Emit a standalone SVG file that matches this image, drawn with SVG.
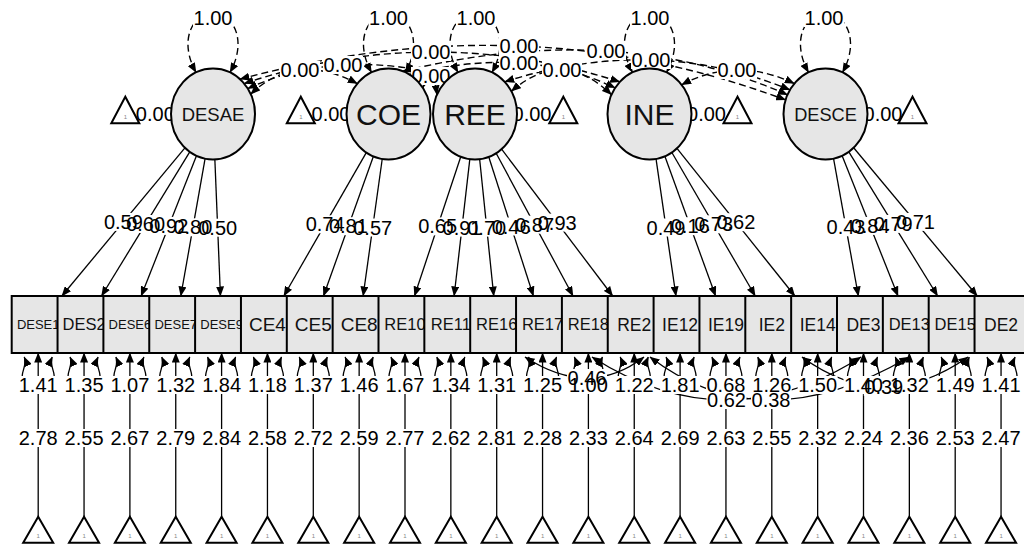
<svg xmlns="http://www.w3.org/2000/svg" xmlns:xlink="http://www.w3.org/1999/xlink" width="1024" height="544" viewBox="0 0 1024 544">
<style>
.e{fill:none;stroke:#000;stroke-width:1.3}
.d{stroke-dasharray:7 4;stroke-width:1.4}
.bg{fill:#fff}
.t{font-family:"Liberation Sans",Arial,Helvetica,sans-serif;font-size:20px;text-anchor:middle;fill:#000}
.n{fill:#e6e6e6;stroke:#000;stroke-width:2}
.tri{fill:#fff;stroke:#000;stroke-width:2}
.one{font-family:"Liberation Sans",Arial,sans-serif;font-size:6px;text-anchor:middle;fill:#888}
.nl{font-family:"Liberation Sans",Arial,Helvetica,sans-serif;text-anchor:middle;fill:#111}
</style>
<defs>
<marker id="ah" viewBox="0 0 10 8" refX="9.5" refY="4" markerWidth="10" markerHeight="8" markerUnits="userSpaceOnUse" orient="auto-start-reverse"><path d="M0,0 L10,4 L0,8 z" fill="#000"/></marker>
<path id="rl" d="M-14,357 C-10,366 -20,374 -14,382 Q0,392 14,382 C20,374 10,366 14,357" fill="none" stroke="#000" stroke-width="1.3" marker-start="url(#ah)" marker-end="url(#ah)"/>
</defs>
<rect width="1024" height="544" fill="#fff"/>
<g id="connectors">
<!-- latent variance loops -->
<g class="e d">
<path d="M196,72.4 C179,42 191,14 213,14 C235,14 247,42 230,72.4" marker-start="url(#ah)" marker-end="url(#ah)"/>
<path d="M371.5,72.4 C354.5,42 366.5,14 388.5,14 C410.5,14 422.5,42 405.5,72.4" marker-start="url(#ah)" marker-end="url(#ah)"/>
<path d="M458,72.4 C441,42 453,14 475,14 C497,14 509,42 492,72.4" marker-start="url(#ah)" marker-end="url(#ah)"/>
<path d="M632.5,72.4 C615.5,42 627.5,14 649.5,14 C671.5,14 683.5,42 666.5,72.4" marker-start="url(#ah)" marker-end="url(#ah)"/>
<path d="M808.5,72.4 C791.5,42 803.5,14 825.5,14 C847.5,14 859.5,42 842.5,72.4" marker-start="url(#ah)" marker-end="url(#ah)"/>
<!-- latent covariances -->
<path d="M250.75,94.05 Q295.98,51.2 357.29,83.55" marker-start="url(#ah)" marker-end="url(#ah)"/>
<path d="M247.82,88.56 Q336.63,47.35 450.91,76.73" marker-start="url(#ah)" marker-end="url(#ah)"/>
<path d="M244.21,83.55 Q430,21.31 619.8,81.83" marker-start="url(#ah)" marker-end="url(#ah)"/>
<path d="M240,79.15 Q525.22,2.45 785.56,99.94" marker-start="url(#ah)" marker-end="url(#ah)"/>
<path d="M422.9,87.9 Q432.08,60.66 436.93,94.77" marker-start="url(#ah)" marker-end="url(#ah)"/>
<path d="M409.5,74.6 Q525.7,44.75 615.1,87.9" marker-start="url(#ah)" marker-end="url(#ah)"/>
<path d="M402.86,71.24 Q616.85,19 787.43,94.77" marker-start="url(#ah)" marker-end="url(#ah)"/>
<path d="M511.4,91.25 Q562.6,47 611.43,94.77" marker-start="url(#ah)" marker-end="url(#ah)"/>
<path d="M504.7,81.8 Q654.71,34.15 789.88,89.89" marker-start="url(#ah)" marker-end="url(#ah)"/>
<path d="M681.67,84.75 Q736.02,55.85 794.29,83.55" marker-start="url(#ah)" marker-end="url(#ah)"/>
</g>
<!-- latent intercepts -->
<g class="e">
<line x1="139" y1="114" x2="171" y2="114" marker-end="url(#ah)"/>
<line x1="314.8" y1="114" x2="346.5" y2="114" marker-end="url(#ah)"/>
<line x1="549.3" y1="114" x2="517" y2="114" marker-end="url(#ah)"/>
<line x1="723.5" y1="114" x2="691.5" y2="114" marker-end="url(#ah)"/>
<line x1="898.5" y1="114" x2="867.5" y2="114" marker-end="url(#ah)"/>
</g>
<!-- loadings -->
<g class="e" marker-end="url(#ah)">
<line x1="184.91" y1="147.83" x2="61.86" y2="296"/>
<line x1="189.78" y1="151.91" x2="101.51" y2="296"/>
<line x1="196.48" y1="155.83" x2="141.15" y2="296"/>
<line x1="205.09" y1="158.69" x2="180.79" y2="296"/>
<line x1="214.86" y1="159.46" x2="220.44" y2="296"/>
<line x1="366.29" y1="152.62" x2="283.84" y2="296"/>
<line x1="373.34" y1="156.43" x2="323.48" y2="296"/>
<line x1="382.23" y1="158.99" x2="363.12" y2="296"/>
<line x1="460.76" y1="156.81" x2="414.48" y2="296"/>
<line x1="469.82" y1="159.15" x2="454.12" y2="296"/>
<line x1="479.66" y1="159.22" x2="493.76" y2="296"/>
<line x1="488.79" y1="156.98" x2="533.4" y2="296"/>
<line x1="496.17" y1="153.3" x2="573.05" y2="296"/>
<line x1="501.62" y1="149.19" x2="612.69" y2="296"/>
<line x1="656.03" y1="158.95" x2="675.96" y2="296"/>
<line x1="664.88" y1="156.34" x2="715.6" y2="296"/>
<line x1="671.87" y1="152.51" x2="755.24" y2="296"/>
<line x1="676.98" y1="148.41" x2="794.88" y2="296"/>
<line x1="833.56" y1="158.65" x2="858.36" y2="296"/>
<line x1="842.14" y1="155.78" x2="898" y2="296"/>
<line x1="848.82" y1="151.84" x2="937.64" y2="296"/>
<line x1="853.66" y1="147.76" x2="977.28" y2="296"/>
</g>
<!-- manifest intercepts -->
<g class="e" marker-end="url(#ah)">
<line x1="38.2" y1="516.7" x2="38.2" y2="353"/>
<line x1="84.05" y1="516.7" x2="84.05" y2="353"/>
<line x1="129.9" y1="516.7" x2="129.9" y2="353"/>
<line x1="175.75" y1="516.7" x2="175.75" y2="353"/>
<line x1="221.6" y1="516.7" x2="221.6" y2="353"/>
<line x1="267.45" y1="516.7" x2="267.45" y2="353"/>
<line x1="313.3" y1="516.7" x2="313.3" y2="353"/>
<line x1="359.15" y1="516.7" x2="359.15" y2="353"/>
<line x1="405" y1="516.7" x2="405" y2="353"/>
<line x1="450.85" y1="516.7" x2="450.85" y2="353"/>
<line x1="496.7" y1="516.7" x2="496.7" y2="353"/>
<line x1="542.55" y1="516.7" x2="542.55" y2="353"/>
<line x1="588.4" y1="516.7" x2="588.4" y2="353"/>
<line x1="634.25" y1="516.7" x2="634.25" y2="353"/>
<line x1="680.1" y1="516.7" x2="680.1" y2="353"/>
<line x1="725.95" y1="516.7" x2="725.95" y2="353"/>
<line x1="771.8" y1="516.7" x2="771.8" y2="353"/>
<line x1="817.65" y1="516.7" x2="817.65" y2="353"/>
<line x1="863.5" y1="516.7" x2="863.5" y2="353"/>
<line x1="909.35" y1="516.7" x2="909.35" y2="353"/>
<line x1="955.2" y1="516.7" x2="955.2" y2="353"/>
<line x1="1001.05" y1="516.7" x2="1001.05" y2="353"/>
</g>
<!-- residual variances -->
<use xlink:href="#rl" x="38.2"/><use xlink:href="#rl" x="84.05"/><use xlink:href="#rl" x="129.9"/><use xlink:href="#rl" x="175.75"/><use xlink:href="#rl" x="221.6"/><use xlink:href="#rl" x="267.45"/><use xlink:href="#rl" x="313.3"/><use xlink:href="#rl" x="359.15"/><use xlink:href="#rl" x="405"/><use xlink:href="#rl" x="450.85"/><use xlink:href="#rl" x="496.7"/><use xlink:href="#rl" x="542.55"/><use xlink:href="#rl" x="588.4"/><use xlink:href="#rl" x="634.25"/><use xlink:href="#rl" x="680.1"/><use xlink:href="#rl" x="725.95"/><use xlink:href="#rl" x="771.8"/><use xlink:href="#rl" x="817.65"/><use xlink:href="#rl" x="863.5"/><use xlink:href="#rl" x="909.35"/><use xlink:href="#rl" x="955.2"/><use xlink:href="#rl" x="1001.05"/>
<!-- residual covariances -->
<g class="e">
<path d="M525,357 Q589.5,399 644,357" marker-start="url(#ah)" marker-end="url(#ah)"/>
<path d="M592,357 Q726.5,443 861,357" marker-start="url(#ah)" marker-end="url(#ah)"/>
<path d="M650,357 Q762.5,443 909,357" marker-start="url(#ah)" marker-end="url(#ah)"/>
<path d="M802,357 Q883,416.5 968,357" marker-start="url(#ah)" marker-end="url(#ah)"/>
</g>
<!-- label backgrounds -->
<g class="bg">
<rect x="193" y="9" width="40" height="18"/><rect x="368.5" y="9" width="40" height="18"/><rect x="456" y="9" width="40" height="18"/><rect x="630" y="9" width="40" height="18"/><rect x="804" y="9" width="40" height="18"/>
<rect x="280" y="61" width="40" height="18"/><rect x="323" y="56" width="40" height="18"/><rect x="411" y="43" width="40" height="18"/><rect x="499" y="37" width="40" height="18"/><rect x="411" y="67" width="40" height="18"/><rect x="499" y="54" width="40" height="18"/><rect x="586" y="42" width="40" height="18"/><rect x="542" y="61" width="40" height="18"/><rect x="631" y="51" width="40" height="18"/><rect x="717" y="61" width="40" height="18"/>
<rect x="135.3" y="105" width="40" height="18"/><rect x="311" y="105" width="40" height="18"/><rect x="512" y="105" width="40" height="18"/><rect x="686.5" y="105" width="40" height="18"/><rect x="863" y="105" width="40" height="18"/>
<rect x="103.4" y="212.9" width="40" height="18"/><rect x="125.6" y="215" width="40" height="18"/><rect x="148.8" y="216.9" width="40" height="18"/><rect x="172.9" y="218.3" width="40" height="18"/><rect x="197.7" y="218.7" width="40" height="18"/>
<rect x="305.1" y="215.3" width="40" height="18"/><rect x="328.4" y="217.2" width="40" height="18"/><rect x="352.7" y="218.5" width="40" height="18"/>
<rect x="417.6" y="217.4" width="40" height="18"/><rect x="442" y="218.6" width="40" height="18"/><rect x="466.7" y="218.6" width="40" height="18"/><rect x="491.1" y="217.5" width="40" height="18"/><rect x="514.6" y="215.7" width="40" height="18"/><rect x="537.2" y="213.6" width="40" height="18"/>
<rect x="646" y="218.5" width="40" height="18"/><rect x="670.2" y="217.2" width="40" height="18"/><rect x="693.6" y="215.3" width="40" height="18"/><rect x="715.9" y="213.2" width="40" height="18"/>
<rect x="826" y="218.3" width="40" height="18"/><rect x="850.1" y="216.9" width="40" height="18"/><rect x="873.2" y="214.9" width="40" height="18"/><rect x="895.5" y="212.9" width="40" height="18"/>
<rect x="567" y="369" width="40" height="18"/><rect x="706.5" y="391" width="40" height="18"/><rect x="751" y="391" width="40" height="18"/><rect x="863.75" y="377.75" width="40" height="18"/>
<rect x="18.2" y="376" width="40" height="18"/><rect x="64.05" y="376" width="40" height="18"/><rect x="109.9" y="376" width="40" height="18"/><rect x="155.75" y="376" width="40" height="18"/><rect x="201.6" y="376" width="40" height="18"/><rect x="247.45" y="376" width="40" height="18"/><rect x="293.3" y="376" width="40" height="18"/><rect x="339.15" y="376" width="40" height="18"/><rect x="385" y="376" width="40" height="18"/><rect x="430.85" y="376" width="40" height="18"/><rect x="476.7" y="376" width="40" height="18"/><rect x="522.55" y="376" width="40" height="18"/><rect x="568.4" y="376" width="40" height="18"/><rect x="614.25" y="376" width="40" height="18"/><rect x="660.1" y="376" width="40" height="18"/><rect x="705.95" y="376" width="40" height="18"/><rect x="751.8" y="376" width="40" height="18"/><rect x="797.65" y="376" width="40" height="18"/><rect x="843.5" y="376" width="40" height="18"/><rect x="889.35" y="376" width="40" height="18"/><rect x="935.2" y="376" width="40" height="18"/><rect x="981.05" y="376" width="40" height="18"/>
<rect x="18.2" y="429" width="40" height="18"/><rect x="64.05" y="429" width="40" height="18"/><rect x="109.9" y="429" width="40" height="18"/><rect x="155.75" y="429" width="40" height="18"/><rect x="201.6" y="429" width="40" height="18"/><rect x="247.45" y="429" width="40" height="18"/><rect x="293.3" y="429" width="40" height="18"/><rect x="339.15" y="429" width="40" height="18"/><rect x="385" y="429" width="40" height="18"/><rect x="430.85" y="429" width="40" height="18"/><rect x="476.7" y="429" width="40" height="18"/><rect x="522.55" y="429" width="40" height="18"/><rect x="568.4" y="429" width="40" height="18"/><rect x="614.25" y="429" width="40" height="18"/><rect x="660.1" y="429" width="40" height="18"/><rect x="705.95" y="429" width="40" height="18"/><rect x="751.8" y="429" width="40" height="18"/><rect x="797.65" y="429" width="40" height="18"/><rect x="843.5" y="429" width="40" height="18"/><rect x="889.35" y="429" width="40" height="18"/><rect x="935.2" y="429" width="40" height="18"/><rect x="981.05" y="429" width="40" height="18"/>
</g>
<!-- labels -->
<g class="t">
<text x="213" y="25">1.00</text><text x="388.5" y="25">1.00</text><text x="476" y="25">1.00</text><text x="650" y="25">1.00</text><text x="824" y="25">1.00</text>
<text x="300" y="77">0.00</text><text x="343" y="72">0.00</text><text x="431" y="59">0.00</text><text x="519" y="53">0.00</text><text x="431" y="83">0.00</text><text x="519" y="70">0.00</text><text x="606" y="58">0.00</text><text x="562" y="77">0.00</text><text x="651" y="67">0.00</text><text x="737" y="77">0.00</text>
<text x="155.3" y="121">0.00</text><text x="331" y="121">0.00</text><text x="532" y="121">0.00</text><text x="706.5" y="121">0.00</text><text x="883" y="121">0.00</text>
<text x="123.4" y="228.9">0.59</text><text x="145.6" y="231">0.60</text><text x="168.8" y="232.9">0.92</text><text x="192.9" y="234.3">0.80</text><text x="217.7" y="234.7">0.50</text>
<text x="325.1" y="231.3">0.74</text><text x="348.4" y="233.2">0.81</text><text x="372.7" y="234.5">0.57</text>
<text x="437.6" y="233.4">0.65</text><text x="462" y="234.6">0.91</text><text x="486.7" y="234.6">0.70</text><text x="511.1" y="233.5">0.46</text><text x="534.6" y="231.7">0.87</text><text x="557.2" y="229.6">0.93</text>
<text x="666" y="234.5">0.49</text><text x="690.2" y="233.2">0.16</text><text x="713.6" y="231.3">0.73</text><text x="735.9" y="229.2">0.62</text>
<text x="846" y="234.3">0.43</text><text x="870.1" y="232.9">0.84</text><text x="893.2" y="230.9">0.79</text><text x="915.5" y="228.9">0.71</text>
<text x="38.2" y="392">1.41</text><text x="84.05" y="392">1.35</text><text x="129.9" y="392">1.07</text><text x="175.75" y="392">1.32</text><text x="221.6" y="392">1.84</text><text x="267.45" y="392">1.18</text><text x="313.3" y="392">1.37</text><text x="359.15" y="392">1.46</text><text x="405" y="392">1.67</text><text x="450.85" y="392">1.34</text><text x="496.7" y="392">1.31</text><text x="542.55" y="392">1.25</text><text x="588.4" y="392">1.00</text><text x="634.25" y="392">1.22</text><text x="680.1" y="392">1.81</text><text x="725.95" y="392">0.68</text><text x="771.8" y="392">1.26</text><text x="817.65" y="392">1.50</text><text x="863.5" y="392">1.40</text><text x="909.35" y="392">1.32</text><text x="955.2" y="392">1.49</text><text x="1001.05" y="392">1.41</text>
<text x="587" y="385">0.46</text><text x="726.5" y="407">0.62</text><text x="771" y="407">0.38</text><text x="883.75" y="393.75">0.39</text>
<text x="38.2" y="445">2.78</text><text x="84.05" y="445">2.55</text><text x="129.9" y="445">2.67</text><text x="175.75" y="445">2.79</text><text x="221.6" y="445">2.84</text><text x="267.45" y="445">2.58</text><text x="313.3" y="445">2.72</text><text x="359.15" y="445">2.59</text><text x="405" y="445">2.77</text><text x="450.85" y="445">2.62</text><text x="496.7" y="445">2.81</text><text x="542.55" y="445">2.28</text><text x="588.4" y="445">2.33</text><text x="634.25" y="445">2.64</text><text x="680.1" y="445">2.69</text><text x="725.95" y="445">2.63</text><text x="771.8" y="445">2.55</text><text x="817.65" y="445">2.32</text><text x="863.5" y="445">2.24</text><text x="909.35" y="445">2.36</text><text x="955.2" y="445">2.53</text><text x="1001.05" y="445">2.47</text>
</g>
</g>
<!-- latent nodes -->
<g id="DESAE"><ellipse class="n" cx="213" cy="114" rx="42" ry="45.5"/><text class="nl" x="213" y="120.6" font-size="18.5">DESAE</text></g>
<g id="COE"><ellipse class="n" cx="388.5" cy="114" rx="42" ry="45.5"/><text class="nl" x="388.5" y="124.7" font-size="30">COE</text></g>
<g id="REE"><ellipse class="n" cx="475" cy="114" rx="42" ry="45.5"/><text class="nl" x="475" y="124.7" font-size="30">REE</text></g>
<g id="INE"><ellipse class="n" cx="649.5" cy="114" rx="42" ry="45.5"/><text class="nl" x="649.5" y="124.7" font-size="30">INE</text></g>
<g id="DESCE"><ellipse class="n" cx="825.5" cy="114" rx="42" ry="45.5"/><text class="nl" x="825.5" y="120.6" font-size="18.2">DESCE</text></g>
<!-- latent intercept triangles -->
<g id="int-DESAE"><polygon class="tri" points="125.3,96.7 111.3,123.3 139.3,123.3"/><text class="one" x="125.3" y="119">1</text></g>
<g id="int-COE"><polygon class="tri" points="300.8,96.7 286.8,123.3 314.8,123.3"/><text class="one" x="300.8" y="119">1</text></g>
<g id="int-REE"><polygon class="tri" points="563.3,96.7 549.3,123.3 577.3,123.3"/><text class="one" x="563.3" y="119">1</text></g>
<g id="int-INE"><polygon class="tri" points="737.5,96.7 723.5,123.3 751.5,123.3"/><text class="one" x="737.5" y="119">1</text></g>
<g id="int-DESCE"><polygon class="tri" points="912.5,96.7 898.5,123.3 926.5,123.3"/><text class="one" x="912.5" y="119">1</text></g>
<!-- manifest nodes -->
<g id="DESE1"><rect class="n" x="11.7" y="296" width="53" height="57"/><text class="nl" x="38.2" y="329.2" font-size="13">DESE1</text></g>
<g id="DES2"><rect class="n" x="57.55" y="296" width="53" height="57"/><text class="nl" x="84.05" y="330.4" font-size="16.5">DES2</text></g>
<g id="DESE6"><rect class="n" x="103.4" y="296" width="53" height="57"/><text class="nl" x="129.9" y="329.2" font-size="13">DESE6</text></g>
<g id="DESE7"><rect class="n" x="149.25" y="296" width="53" height="57"/><text class="nl" x="175.75" y="329.2" font-size="13">DESE7</text></g>
<g id="DESE9"><rect class="n" x="195.1" y="296" width="53" height="57"/><text class="nl" x="221.6" y="329.2" font-size="13">DESE9</text></g>
<g id="CE4"><rect class="n" x="240.95" y="296" width="53" height="57"/><text class="nl" x="267.45" y="331.3" font-size="19">CE4</text></g>
<g id="CE5"><rect class="n" x="286.8" y="296" width="53" height="57"/><text class="nl" x="313.3" y="331.3" font-size="19">CE5</text></g>
<g id="CE8"><rect class="n" x="332.65" y="296" width="53" height="57"/><text class="nl" x="359.15" y="331.3" font-size="19">CE8</text></g>
<g id="RE10"><rect class="n" x="378.5" y="296" width="53" height="57"/><text class="nl" x="405" y="330.4" font-size="16.5">RE10</text></g>
<g id="RE11"><rect class="n" x="424.35" y="296" width="53" height="57"/><text class="nl" x="450.85" y="330.4" font-size="16.5">RE11</text></g>
<g id="RE16"><rect class="n" x="470.2" y="296" width="53" height="57"/><text class="nl" x="496.7" y="330.4" font-size="16.5">RE16</text></g>
<g id="RE17"><rect class="n" x="516.05" y="296" width="53" height="57"/><text class="nl" x="542.55" y="330.4" font-size="16.5">RE17</text></g>
<g id="RE18"><rect class="n" x="561.9" y="296" width="53" height="57"/><text class="nl" x="588.4" y="330.4" font-size="16.5">RE18</text></g>
<g id="RE2"><rect class="n" x="607.75" y="296" width="53" height="57"/><text class="nl" x="634.25" y="330.8" font-size="17.5">RE2</text></g>
<g id="IE12"><rect class="n" x="653.6" y="296" width="53" height="57"/><text class="nl" x="680.1" y="330.8" font-size="17.5">IE12</text></g>
<g id="IE19"><rect class="n" x="699.45" y="296" width="53" height="57"/><text class="nl" x="725.95" y="330.8" font-size="17.5">IE19</text></g>
<g id="IE2"><rect class="n" x="745.3" y="296" width="53" height="57"/><text class="nl" x="771.8" y="330.8" font-size="17.5">IE2</text></g>
<g id="IE14"><rect class="n" x="791.15" y="296" width="53" height="57"/><text class="nl" x="817.65" y="330.8" font-size="17.5">IE14</text></g>
<g id="DE3"><rect class="n" x="837" y="296" width="53" height="57"/><text class="nl" x="863.5" y="330.8" font-size="17.5">DE3</text></g>
<g id="DE13"><rect class="n" x="882.85" y="296" width="53" height="57"/><text class="nl" x="909.35" y="330.4" font-size="16.5">DE13</text></g>
<g id="DE15"><rect class="n" x="928.7" y="296" width="53" height="57"/><text class="nl" x="955.2" y="330.4" font-size="16.5">DE15</text></g>
<g id="DE2"><rect class="n" x="974.55" y="296" width="53" height="57"/><text class="nl" x="1001.05" y="330.8" font-size="17.5">DE2</text></g>
<!-- manifest intercept triangles -->
<g id="int-manifest">
<g id="t-DESE1"><polygon class="tri" points="38.2,516.7 23.2,542.7 53.2,542.7"/><text class="one" x="38.2" y="538">1</text></g>
<g id="t-DES2"><polygon class="tri" points="84.05,516.7 69.05,542.7 99.05,542.7"/><text class="one" x="84.05" y="538">1</text></g>
<g id="t-DESE6"><polygon class="tri" points="129.9,516.7 114.9,542.7 144.9,542.7"/><text class="one" x="129.9" y="538">1</text></g>
<g id="t-DESE7"><polygon class="tri" points="175.75,516.7 160.75,542.7 190.75,542.7"/><text class="one" x="175.75" y="538">1</text></g>
<g id="t-DESE9"><polygon class="tri" points="221.6,516.7 206.6,542.7 236.6,542.7"/><text class="one" x="221.6" y="538">1</text></g>
<g id="t-CE4"><polygon class="tri" points="267.45,516.7 252.45,542.7 282.45,542.7"/><text class="one" x="267.45" y="538">1</text></g>
<g id="t-CE5"><polygon class="tri" points="313.3,516.7 298.3,542.7 328.3,542.7"/><text class="one" x="313.3" y="538">1</text></g>
<g id="t-CE8"><polygon class="tri" points="359.15,516.7 344.15,542.7 374.15,542.7"/><text class="one" x="359.15" y="538">1</text></g>
<g id="t-RE10"><polygon class="tri" points="405,516.7 390,542.7 420,542.7"/><text class="one" x="405" y="538">1</text></g>
<g id="t-RE11"><polygon class="tri" points="450.85,516.7 435.85,542.7 465.85,542.7"/><text class="one" x="450.85" y="538">1</text></g>
<g id="t-RE16"><polygon class="tri" points="496.7,516.7 481.7,542.7 511.7,542.7"/><text class="one" x="496.7" y="538">1</text></g>
<g id="t-RE17"><polygon class="tri" points="542.55,516.7 527.55,542.7 557.55,542.7"/><text class="one" x="542.55" y="538">1</text></g>
<g id="t-RE18"><polygon class="tri" points="588.4,516.7 573.4,542.7 603.4,542.7"/><text class="one" x="588.4" y="538">1</text></g>
<g id="t-RE2"><polygon class="tri" points="634.25,516.7 619.25,542.7 649.25,542.7"/><text class="one" x="634.25" y="538">1</text></g>
<g id="t-IE12"><polygon class="tri" points="680.1,516.7 665.1,542.7 695.1,542.7"/><text class="one" x="680.1" y="538">1</text></g>
<g id="t-IE19"><polygon class="tri" points="725.95,516.7 710.95,542.7 740.95,542.7"/><text class="one" x="725.95" y="538">1</text></g>
<g id="t-IE2"><polygon class="tri" points="771.8,516.7 756.8,542.7 786.8,542.7"/><text class="one" x="771.8" y="538">1</text></g>
<g id="t-IE14"><polygon class="tri" points="817.65,516.7 802.65,542.7 832.65,542.7"/><text class="one" x="817.65" y="538">1</text></g>
<g id="t-DE3"><polygon class="tri" points="863.5,516.7 848.5,542.7 878.5,542.7"/><text class="one" x="863.5" y="538">1</text></g>
<g id="t-DE13"><polygon class="tri" points="909.35,516.7 894.35,542.7 924.35,542.7"/><text class="one" x="909.35" y="538">1</text></g>
<g id="t-DE15"><polygon class="tri" points="955.2,516.7 940.2,542.7 970.2,542.7"/><text class="one" x="955.2" y="538">1</text></g>
<g id="t-DE2"><polygon class="tri" points="1001.05,516.7 986.05,542.7 1016.05,542.7"/><text class="one" x="1001.05" y="538">1</text></g>
</g>
</svg>
